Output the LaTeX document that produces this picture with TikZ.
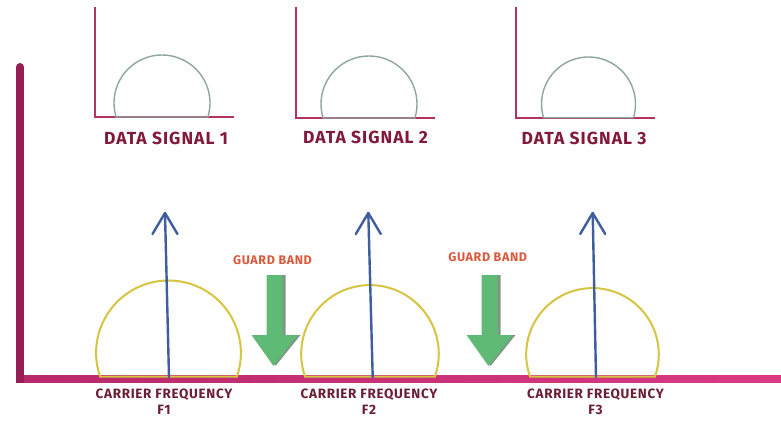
\documentclass[tikz,border=0pt]{standalone}
\usepackage{fontspec}
\setmainfont{Fira Sans}
\newfontfamily\datafont{Fira Sans}[LetterSpace=6]
\newfontfamily\freqfont{Fira Sans}[LetterSpace=5]
\usetikzlibrary{calc}

\definecolor{plotaxis}{HTML}{B0345F}
\definecolor{datadome}{HTML}{8FA69E}
\definecolor{datatext}{HTML}{82193A}
\definecolor{mainv}{HTML}{961E55}
\definecolor{mainhl}{HTML}{B8286A}
\definecolor{mainhr}{HTML}{DA3A84}
\definecolor{carrierdome}{HTML}{D6C443}
\definecolor{carrierblue}{HTML}{3E5E9E}
\definecolor{guardgreen}{HTML}{5EBA74}
\definecolor{guardshadow}{HTML}{7F9784}
\definecolor{guardtext}{HTML}{D9593C}
\definecolor{freqtext}{HTML}{6C1E34}

\tikzset{
  plotline/.style={draw=plotaxis, line width=1.5pt},
  datacurve/.style={draw=datadome, line width=1.4pt},
  datalabel/.style={text=datatext, font=\datafont\fontsize{17.5}{17.5}\selectfont\bfseries, inner sep=0pt},
  carriercurve/.style={draw=carrierdome, line width=2pt},
  carrierline/.style={draw=carrierblue, line width=2.4pt, line cap=round, line join=round},
  freqlabel/.style={text=freqtext, font=\freqfont\fontsize{13.5}{16}\selectfont\bfseries, align=center, inner sep=0pt},
  guardlabel/.style={text=guardtext, font=\freqfont\fontsize{12.5}{12.5}\selectfont\bfseries, inner sep=0pt},
  guardbody/.style={fill=guardgreen, draw=none},
  guardshade/.style={fill=guardshadow, draw=none},
}

% carrier dome: centre x, radius, centre height above the base line
\newcommand\carrierdomeat[3]{%
  \pgfmathsetmacro\ang{asin(#3/#2)}%
  \draw[carriercurve] ($(#1,376.5)+(180-\ang:#2)+(0,-#3)$)
    arc[start angle=180-\ang, end angle=360+\ang, radius=#2] -- cycle;
}
% guard band arrow centred at x
\newcommand\guardarrow[1]{%
  \fill[guardshade] (#1-5,275) -- (#1+11,275) -- (#1+11,335) -- (#1+26,335)
    -- (#1+1,366) -- (#1-5,340) -- cycle;
  \fill[guardbody] (#1-8,275) -- (#1+8,275) -- (#1+8,335) -- (#1+23,335)
    -- (#1-1,366) -- (#1-23,335) -- (#1-8,335) -- cycle;
}

\begin{document}
\begin{tikzpicture}[x=1pt,y=-1pt]
\useasboundingbox (0,0) rectangle (781,420);
\fill[white] (0,0) rectangle (781,420);

% main frequency axis
\shade[left color=mainhl, right color=mainhr] (16,375.5) rectangle (781,382.5);
\draw[draw=mainv, line width=8pt, line cap=round] (20,67) -- (20,379);
\fill[mainv] (16,375.5) rectangle (24,382.5);

% data signals
\draw[plotline] (95,7) -- (95,117) -- (234,117);
\draw[datacurve] ($(162,103)+(163:48)$) arc[start angle=163, end angle=377, radius=48] -- cycle;
\node[datalabel] (ds1) at (166,138) {DATA SIGNAL 1};

\draw[plotline] (296,7) -- (296,118) -- (435,118);
\draw[datacurve] ($(369,104)+(163:48)$) arc[start angle=163, end angle=377, radius=48] -- cycle;
\node[datalabel] (ds2) at (365.5,137.5) {DATA SIGNAL 2};

\draw[plotline] (516,7) -- (516,118) -- (655,118);
\draw[datacurve] ($(588.5,104)+(163:47)$) arc[start angle=163, end angle=377, radius=47] -- cycle;
\node[datalabel] (ds3) at (584,138) {DATA SIGNAL 3};

% carrier domes
\carrierdomeat{168.5}{72.4}{23.6}
\carrierdomeat{370}{68.8}{22.6}
\carrierdomeat{592.5}{66.3}{22.1}

% carrier arrows
\coordinate (b1) at (169,377);   \coordinate (t1) at (165,213);
\coordinate (b2) at (372.7,377); \coordinate (t2) at (368.3,213);
\coordinate (b3) at (596,377);   \coordinate (t3) at (592.7,213);
\foreach \i in {1,2,3}{
  \draw[carrierline] (b\i) -- (t\i);
  \draw[carrierline] ($(t\i)+(-12.5,21)$) -- (t\i) -- ($(t\i)+(12.5,21)$);
}

% guard bands
\guardarrow{274.5}
\guardarrow{489.5}
\node[guardlabel] (g1) at (272.5,260) {GUARD BAND};
\node[guardlabel] (g2) at (487.7,256.7) {GUARD BAND};

% carrier labels
\node[freqlabel] (f1) at (164,402) {CARRIER FREQUENCY\\F1};
\node[freqlabel] (f2) at (369,402) {CARRIER FREQUENCY\\F2};
\node[freqlabel] (f3) at (595.5,401.5) {CARRIER FREQUENCY\\F3};
\end{tikzpicture}
\end{document}
